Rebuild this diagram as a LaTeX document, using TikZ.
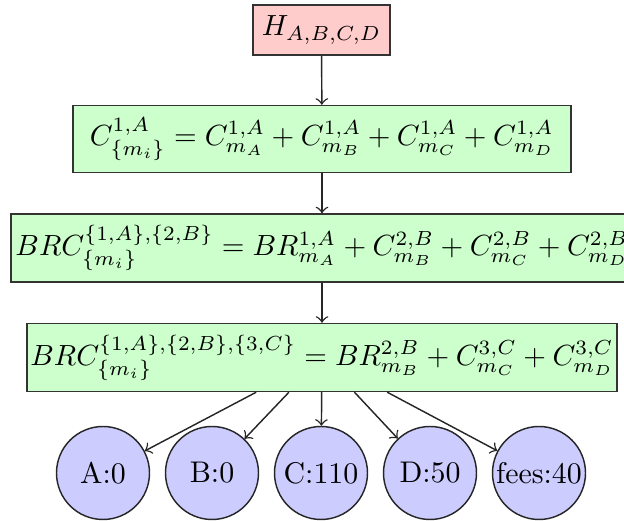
\documentclass[tikz,border=0pt]{standalone}
\usepackage{graphicx}
\begin{document}
\def\PX{0.2778pt}
\newcommand{\mtxt}[1]{\scalebox{0.81}{$#1$}}
\newcommand{\ltxt}[1]{\scalebox{0.83}{#1}}
\begin{tikzpicture}[x=0.2778pt, y=-0.2778pt,
  hbox/.style={draw=black!80, fill=red!20, inner sep=0pt},
  gbox/.style={draw=black!80, fill=green!20, inner sep=0pt, minimum height=67*\PX},
  leaf/.style={circle, draw=black!85, fill=blue!20, minimum size=93*\PX, inner sep=0pt},
  arr/.style={->, draw=black!85}]
\useasboundingbox (0,0) rectangle (624,521);
\node[hbox, minimum width=137*\PX, minimum height=50*\PX] (h) at (321.5,30) {\mtxt{H_{A,B,C,D}}};
\node[gbox, minimum width=498*\PX] (c) at (322,139) {\mtxt{C^{1,A}_{\{m_i\}} = C^{1,A}_{m_A} + C^{1,A}_{m_B} + C^{1,A}_{m_C} + C^{1,A}_{m_D}}};
\node[gbox, minimum width=622*\PX, minimum height=68*\PX] (b) at (322,248) {\mtxt{BRC^{\{1,A\},\{2,B\}}_{\{m_i\}} = BR^{1,A}_{m_A} + C^{2,B}_{m_B} + C^{2,B}_{m_C} + C^{2,B}_{m_D}}};
\node[gbox, minimum width=590*\PX, minimum height=68*\PX] (d) at (322,357.5) {\mtxt{BRC^{\{1,A\},\{2,B\},\{3,C\}}_{\{m_i\}} = BR^{2,B}_{m_B} + C^{3,C}_{m_C} + C^{3,C}_{m_D}}};
\node[leaf] (la) at (103,473) {\ltxt{A:0}};
\node[leaf] (lb) at (212,473) {\ltxt{B:0}};
\node[leaf] (lc) at (321,473) {\ltxt{C:110}};
\node[leaf] (ld) at (430,473) {\ltxt{D:50}};
\node[leaf] (le) at (539,473) {\ltxt{fees:40}};
\draw[arr] (h) -- (c);
\draw[arr] (c) -- (b);
\draw[arr] (b) -- (d);
\foreach \t in {la,lb,lc,ld,le} \draw[arr] (d) -- (\t);
\end{tikzpicture}
\end{document}
